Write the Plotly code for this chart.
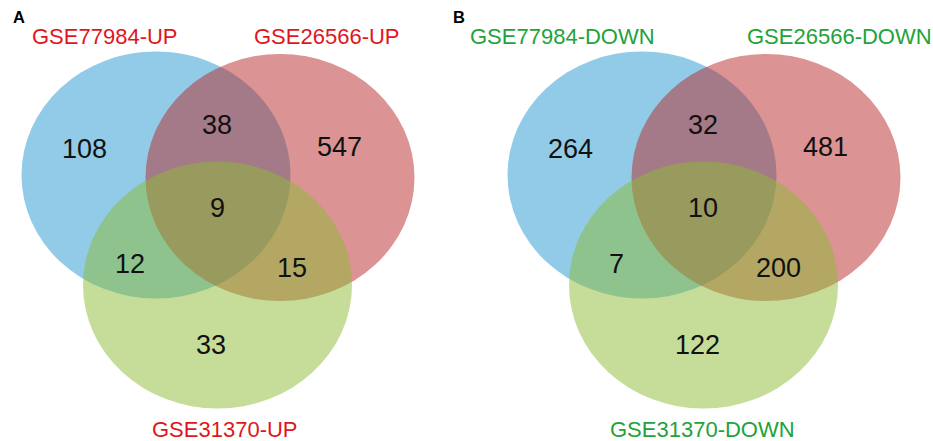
import plotly.graph_objects as go

# ---- data ----
panel_letters = ["A", "B"]
up_set_names = ["GSE77984-UP", "GSE26566-UP", "GSE31370-UP"]
down_set_names = ["GSE77984-DOWN", "GSE26566-DOWN", "GSE31370-DOWN"]
# region order: only1, 1&2, only2, 1&2&3, 1&3, 2&3, only3
up_counts = [108, 38, 547, 9, 12, 15, 33]
down_counts = [264, 32, 481, 10, 7, 200, 122]

# ---- geometry (pixel space of the 933x441 page) ----
W, H = 933, 441
panel_offsets = [0, 486]
ellipse_centers = [(156, 175), (280, 177.5), (217.5, 285)]
ellipse_r = (134.5, 123.5)
ellipse_fills = ["rgba(35,151,209,0.5)", "rgba(183,39,39,0.5)", "rgba(139,187,51,0.5)"]
region_pos = [(84, 149), (217, 125), (339, 147), (217, 208), (130, 264), (292, 268), (211, 345)]
label_pos = [
    [(104.5, 36), (327, 36), (225, 429)],
    [(76, 36), (353, 36), (216, 429)],
]
label_colors = ["#E0161E", "#22A33A"]
letter_x = [19, 458.5]
letter_y = 17

fig = go.Figure()
shapes = []
annotations = []
for p, off in enumerate(panel_offsets):
    for (cx, cy), fill in zip(ellipse_centers, ellipse_fills):
        shapes.append(dict(type="circle", xref="x", yref="y",
                           x0=cx - ellipse_r[0] + off, x1=cx + ellipse_r[0] + off,
                           y0=cy - ellipse_r[1], y1=cy + ellipse_r[1],
                           fillcolor=fill, line=dict(width=0), layer="below"))
    counts = up_counts if p == 0 else down_counts
    names = up_set_names if p == 0 else down_set_names
    for (x, y), c in zip(region_pos, counts):
        annotations.append(dict(x=x + off, y=y, xref="x", yref="y", text=str(c),
                                showarrow=False, xanchor="center", yanchor="middle",
                                font=dict(family="Liberation Sans, Arial", size=27, color="#111111")))
    for (x, y), n in zip(label_pos[p], names):
        annotations.append(dict(x=x + off, y=y, xref="x", yref="y", text=n,
                                showarrow=False, xanchor="center", yanchor="middle",
                                font=dict(family="Liberation Sans, Arial", size=22, color=label_colors[p])))
    annotations.append(dict(x=letter_x[p], y=letter_y,
                            xref="x", yref="y", text="<b>%s</b>" % panel_letters[p],
                            showarrow=False, xanchor="center", yanchor="middle",
                            font=dict(family="Liberation Sans, Arial", size=16.5, color="#000000")))

# invisible trace to set up axes
fig.add_trace(go.Scatter(x=[0, W], y=[0, H], mode="markers", marker=dict(opacity=0),
                         hoverinfo="skip", showlegend=False))
fig.update_layout(
    width=W, height=H, autosize=False,
    margin=dict(l=0, r=0, t=0, b=0),
    paper_bgcolor="white", plot_bgcolor="white",
    shapes=shapes, annotations=annotations,
    xaxis=dict(range=[0, W], visible=False, fixedrange=True),
    yaxis=dict(range=[H, 0], visible=False, fixedrange=True),
    showlegend=False,
)
fig.write_html("out.html",
               config={"displayModeBar": False, "responsive": False},
               post_script="document.body.style.margin='0';document.body.style.overflow='hidden';")
